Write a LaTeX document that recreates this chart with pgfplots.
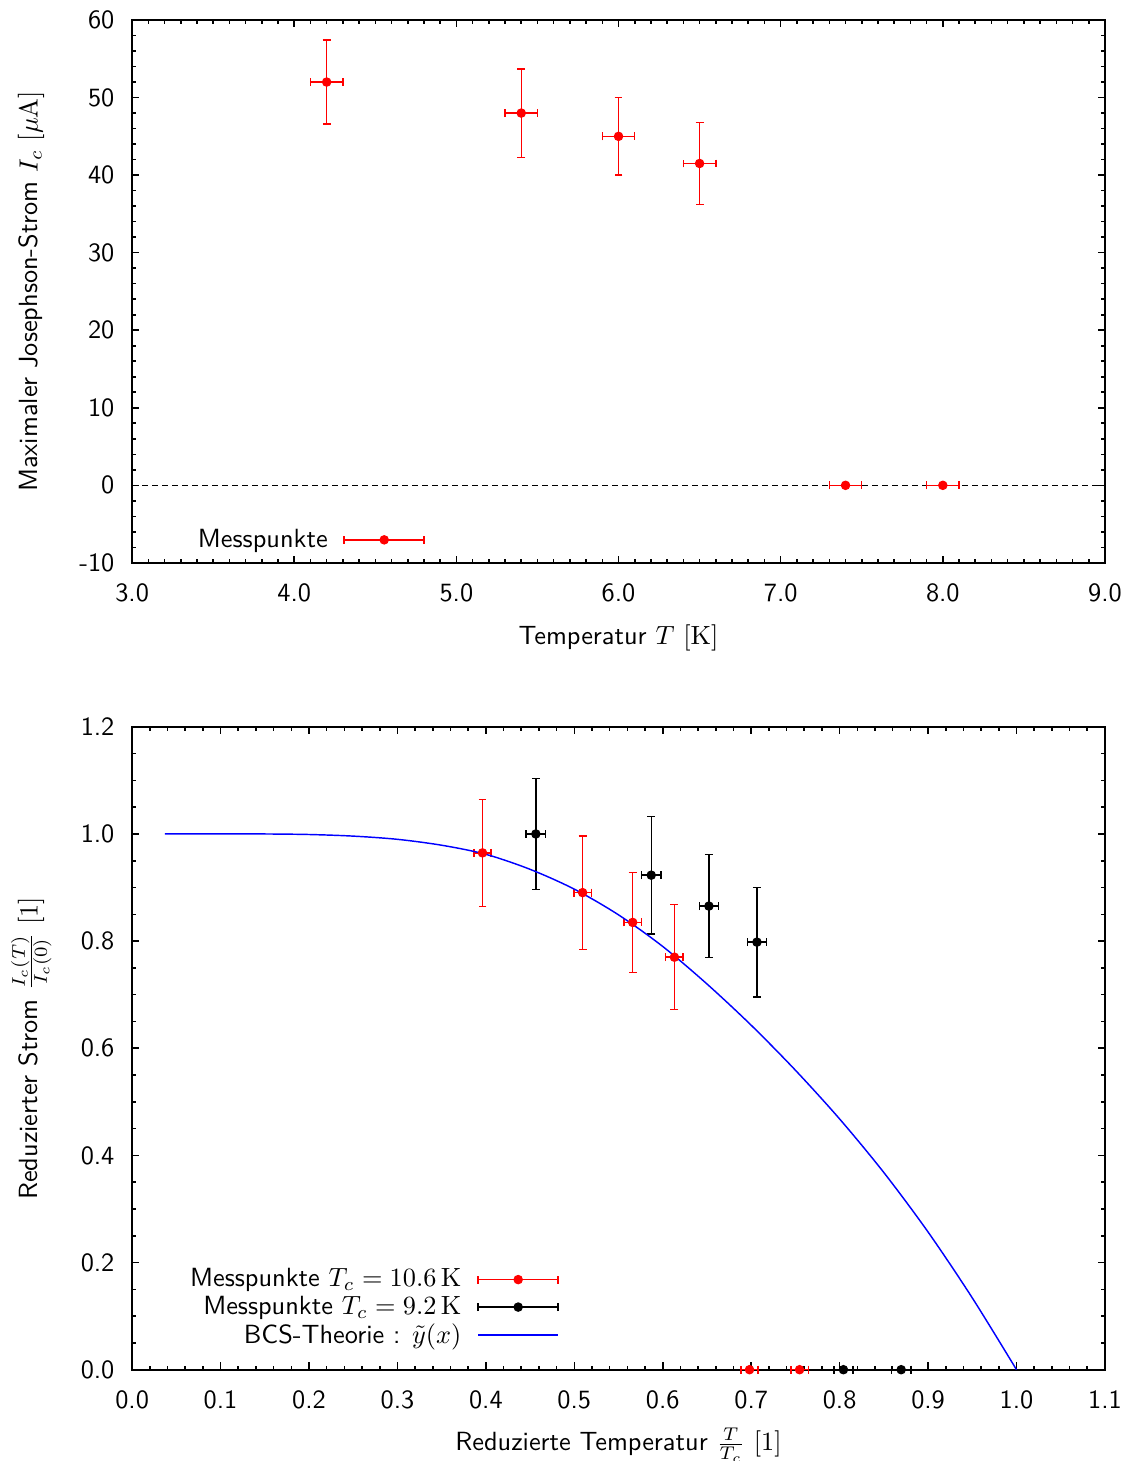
\documentclass[border=0pt]{standalone}
\usepackage{pgfplots}
\pgfplotsset{compat=1.18}
\usepackage{pgfplotstable}

\pgfplotstableread{
x y ex ey
4.2 52.0 0.1 5.4
5.4 48.0 0.1 5.7
6.0 45.0 0.1 5.0
6.5 41.5 0.1 5.3
}\topdata

\pgfplotstableread{
x y ex
7.4 0.0 0.1
8.0 0.0 0.1
}\topzero

\pgfplotstableread{
x y ex ey
0.3962 0.9647 0.0098 0.100
0.5094 0.8905 0.0098 0.106
0.5660 0.8349 0.0098 0.093
0.6132 0.7700 0.0098 0.098
}\reddata

\pgfplotstableread{
x y ex
0.6981 0.0 0.0098
0.7547 0.0 0.0098
}\redzero

\pgfplotstableread{
x y ex ey
0.4565 1.0000 0.0109 0.104
0.5870 0.9231 0.0109 0.110
0.6522 0.8654 0.0109 0.096
0.7065 0.7981 0.0109 0.102
}\blackdata

\pgfplotstableread{
x y ex
0.8043 0.0 0.0109
0.8696 0.0 0.0109
}\blackzero

\pgfplotstableread{
x y
0.037 1.000
0.10 1.000
0.15 1.000
0.20 0.999
0.25 0.996
0.30 0.990
0.35 0.979
0.40 0.962
0.45 0.934
0.50 0.897
0.55 0.849
0.60 0.790
0.65 0.720
0.70 0.643
0.75 0.559
0.80 0.468
0.85 0.368
0.90 0.257
0.95 0.134
1.00 0.000
}\bcsdata

\pgfplotsset{
  myaxis/.style={
    scale only axis,
    width=369.7pt,
    axis line style={line width=0.8pt},
    every tick/.style={line width=0.6pt, black},
    major tick length=2.8pt, minor tick length=1.4pt,
    tick align=inside,
    /pgf/number format/assume math mode=true,
    ticklabel style={font=\sffamily},
    xticklabel style={yshift=-4.5pt},
    yticklabel style={xshift=-3.2pt},
    legend style={draw=none, fill=none, font=\sffamily, inner sep=0pt, outer sep=0pt,
      nodes={inner sep=1pt}, column sep=5pt},
    legend plot pos=right, legend cell align=right,
    clip=false,
  },
  errleg/.style={legend image code/.code={
    \draw[#1, line width=0.55pt] (0pt,0pt) -- (30.4pt,0pt);
    \draw[#1, line width=0.55pt] (0pt,-1.5pt) -- (0pt,1.5pt);
    \draw[#1, line width=0.55pt] (30.4pt,-1.5pt) -- (30.4pt,1.5pt);
    \fill[#1] (15.2pt,0pt) circle (1.6pt);
  }},
  blueleg/.style={legend image code/.code={
    \draw[draw=blue, line width=0.75pt] (0pt,0pt) -- (30.4pt,0pt);
  }},
  errstyle/.style={only marks, mark=*, mark size=1.6pt, color=#1, mark options={fill=#1},
    error bars/.cd, x dir=both, x explicit, y dir=both, y explicit,
    error bar style={line width=0.55pt, #1},
    error mark options={rotate=90, mark size=1.5pt, line width=0.55pt, #1}},
  xerrstyle/.style={only marks, mark=*, mark size=1.6pt, color=#1, mark options={fill=#1},
    error bars/.cd, x dir=both, x explicit,
    error bar style={line width=0.55pt, #1},
    error mark options={rotate=90, mark size=1.5pt, line width=0.55pt, #1}},
}

\begin{document}
\begin{tikzpicture}
\begin{axis}[myaxis,
  at={(0pt,0pt)}, anchor=south west,
  height=206.3pt,
  xmin=3, xmax=9, ymin=-10, ymax=60,
  xtick={3,4,5,6,7,8,9}, ytick={-10,0,10,20,30,40,50,60},
  minor x tick num=9, minor y tick num=4,
  xticklabel style={/pgf/number format/.cd, fixed, fixed zerofill, precision=1},
  yticklabel style={/pgf/number format/.cd, fixed, precision=0},
  every axis y label/.style={at={(axis description cs:-0.097,0.5)}, rotate=90, anchor=base, font=\sffamily},
  every axis x label/.style={at={(axis description cs:0.5,-0.151)}, anchor=base, font=\sffamily},
  xlabel={Temperatur $T$ $[\mathrm{K}]$},
  ylabel={Maximaler Josephson-Strom $I_c$ $[\mu\mathrm{A}]$},
  legend style={at={(axis description cs:0.301,0.0424)}, anchor=east},
]
\addplot[black, line width=0.4pt, dash pattern=on 2.3pt off 1.5pt, forget plot] coordinates {(3,0) (9,0)};
\addplot[errleg=red, errstyle=red] table[x=x, y=y, x error=ex, y error=ey] {\topdata};
\addlegendentry{Messpunkte}
\addplot[forget plot, xerrstyle=red] table[x=x, y=y, x error=ex] {\topzero};
\end{axis}

\begin{axis}[myaxis,
  at={(0pt,-62.3pt)}, anchor=north west,
  height=244.3pt,
  xmin=0, xmax=1.1, ymin=0, ymax=1.2,
  xtick={0,0.1,0.2,0.3,0.4,0.5,0.6,0.7,0.8,0.9,1.0,1.1},
  ytick={0,0.2,0.4,0.6,0.8,1.0,1.2},
  minor x tick num=4, minor y tick num=3,
  xticklabel style={/pgf/number format/.cd, fixed, fixed zerofill, precision=1},
  yticklabel style={/pgf/number format/.cd, fixed, fixed zerofill, precision=1},
  every axis y label/.style={at={(axis description cs:-0.097,0.5)}, rotate=90, anchor=base, font=\sffamily},
  every axis x label/.style={at={(axis description cs:0.5,-0.126)}, anchor=base, font=\sffamily},
  xlabel={Reduzierte Temperatur $\frac{T}{T_c}$ $[1]$},
  ylabel={Reduzierter Strom $\frac{I_c(T)}{I_c(0)}$ $[1]$},
  legend style={at={(axis description cs:0.439,0.031)}, anchor=south east},
]
\addplot[errleg=red, errstyle=red] table[x=x, y=y, x error=ex, y error=ey] {\reddata};
\addlegendentry{Messpunkte $T_c = 10.6\,\mathrm{K}$}
\addplot[errleg=black, errstyle=black] table[x=x, y=y, x error=ex, y error=ey] {\blackdata};
\addlegendentry{Messpunkte $T_c = 9.2\,\mathrm{K}$}
\addplot[blueleg, blue, line width=0.55pt, mark=none, smooth] table[x=x, y=y] {\bcsdata};
\addlegendentry{BCS-Theorie : $\tilde{y}(x)$}
\addplot[forget plot, xerrstyle=red] table[x=x, y=y, x error=ex] {\redzero};
\addplot[forget plot, xerrstyle=black] table[x=x, y=y, x error=ex] {\blackzero};
\end{axis}
\pgfresetboundingbox
\path[use as bounding box] (-50.2pt,-341.3pt) rectangle (378.9pt,213.9pt);
\end{tikzpicture}
\end{document}
